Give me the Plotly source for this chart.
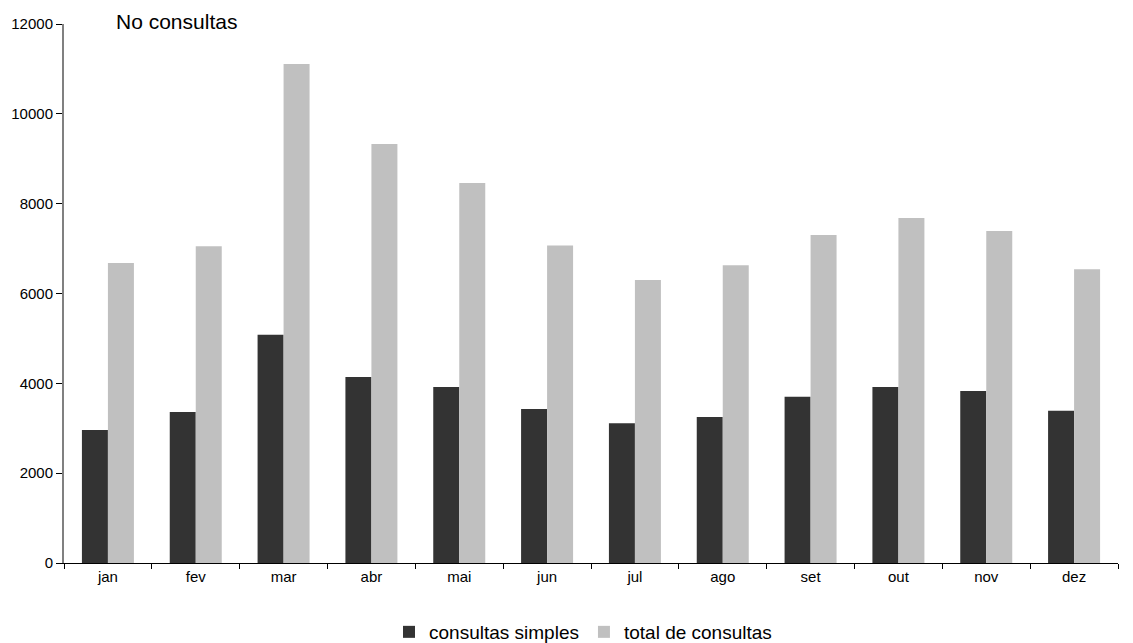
import plotly.graph_objects as go

months = ["jan", "fev", "mar", "abr", "mai", "jun", "jul", "ago", "set", "out", "nov", "dez"]
simples = [2960, 3360, 5080, 4140, 3920, 3430, 3110, 3250, 3700, 3920, 3830, 3390]
total = [6680, 7050, 11110, 9330, 8460, 7070, 6300, 6630, 7300, 7680, 7390, 6540]

OFF = 8  # default page body margin
W, H = 1133 - OFF, 643 - OFF
L, R, T, B = 64 - OFF, 15, 24 - OFF, 80
pw, ph = W - L - R, H - T - B

fig = go.Figure()
fig.add_trace(go.Bar(x=months, y=simples, name="consultas simples", marker=dict(color="#333333", line=dict(width=0))))
fig.add_trace(go.Bar(x=months, y=total, name="total de consultas", marker=dict(color="#c0c0c0", line=dict(width=0))))

fig.update_layout(
    width=W, height=H,
    margin=dict(l=L, r=R, t=T, b=B, autoexpand=False),
    paper_bgcolor="white", plot_bgcolor="white",
    barmode="group", bargap=0.408, bargroupgap=0,
    font=dict(family="Liberation Sans, Arial", size=15, color="black"),
    showlegend=True,
    legend=dict(orientation="h", x=0.5 - 8 / pw, xanchor="center", y=(563 - 632) / ph, yanchor="middle",
                font=dict(size=19), itemwidth=30, traceorder="normal", tracegroupgap=0),
    annotations=[dict(text="No consultas", x=(114 - 64) / pw, xref="paper", y=(563 - 22) / ph, yref="paper",
                      showarrow=False, font=dict(size=21), xanchor="left", yanchor="middle")],
)
fig.update_xaxes(showline=True, linecolor="black", linewidth=1, ticks="outside", tickson="boundaries",
                 ticklen=5, tickcolor="black", showgrid=False, tickfont=dict(size=15),
                 automargin=False, ticklabelstandoff=0)
fig.update_yaxes(range=[0, 12000], dtick=2000, tickformat="d", showline=True, linecolor="#808080", linewidth=2,
                 ticks="outside", ticklen=6, tickcolor="black", showgrid=False, zeroline=False,
                 tickfont=dict(size=15), automargin=False)
fig.write_html("out.html")
